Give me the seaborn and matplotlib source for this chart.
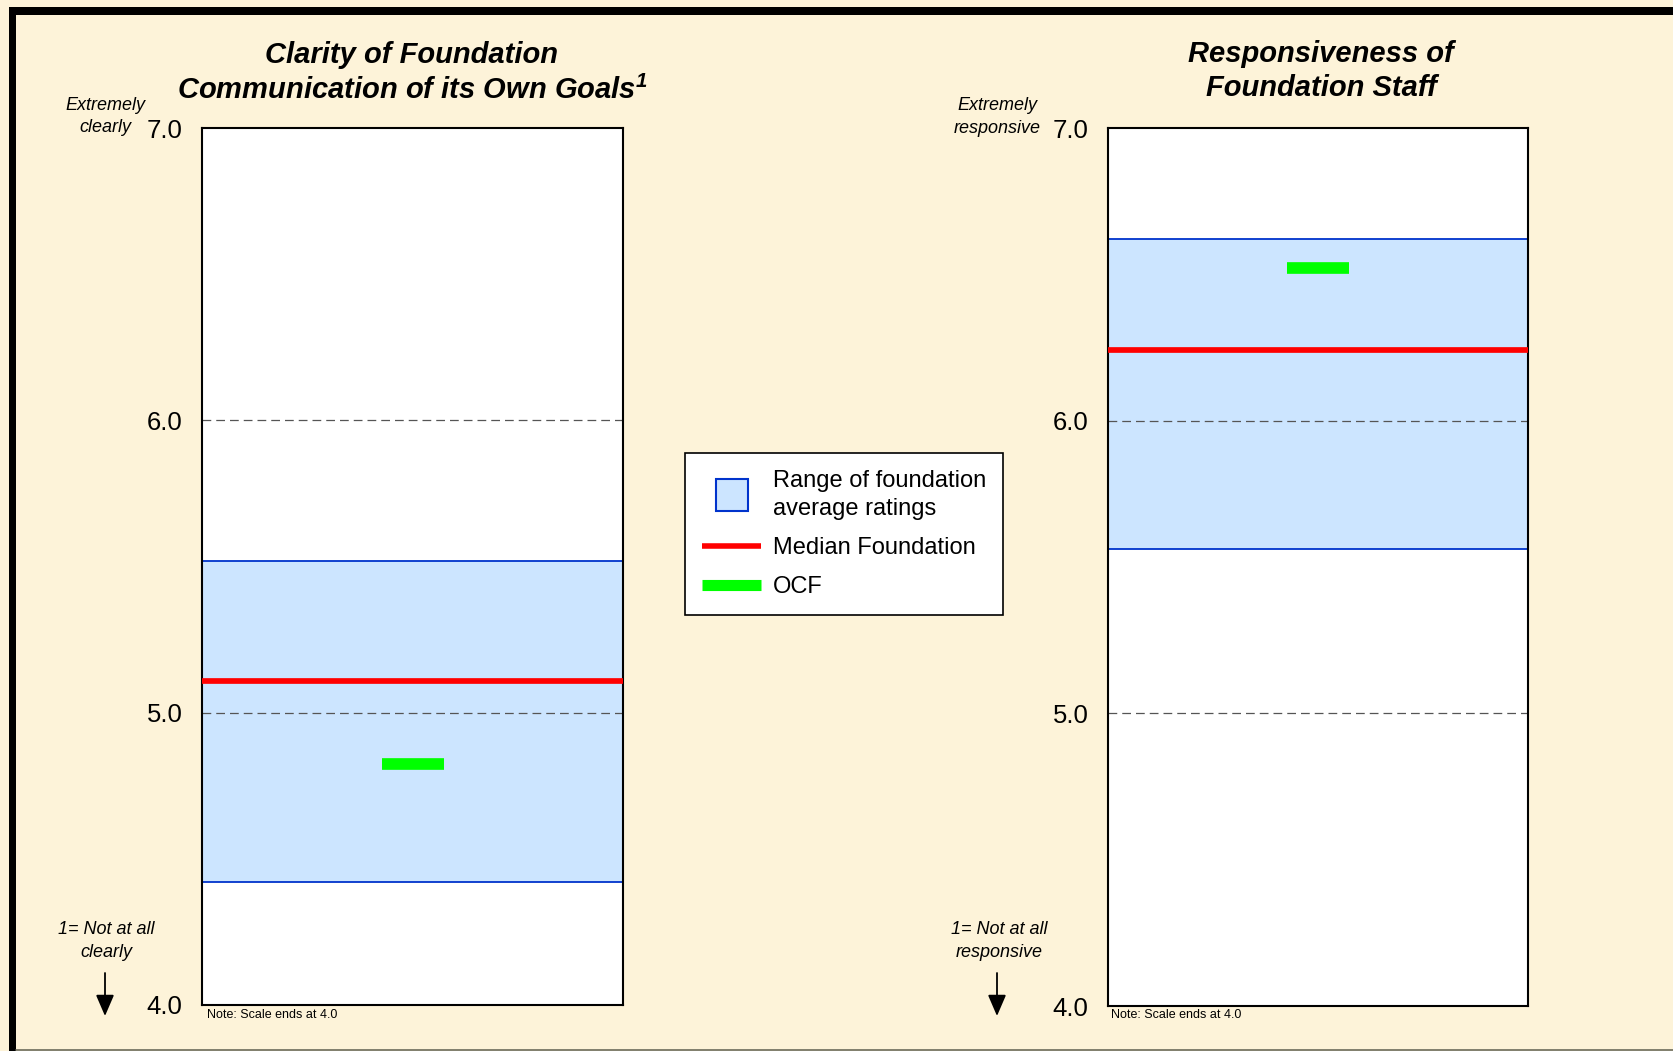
import numpy as np
import pandas as pd
import matplotlib
matplotlib.use("Agg")
import matplotlib.pyplot as plt
import seaborn as sns
from matplotlib.lines import Line2D
from matplotlib.patches import Rectangle, FancyArrowPatch

# ---------------- data ----------------
chart_names = ["Clarity", "Responsiveness"]
chart_titles = ["Clarity of Foundation\nCommunication of its Own Goals$^{\\mathbf{1}}$",
                "Responsiveness of\nFoundation Staff"]
range_low = [4.42, 5.56]
range_high = [5.52, 6.62]
median_values = [5.11, 6.24]
ocf_values = [4.825, 6.52]
y_ticks = [4.0, 5.0, 6.0, 7.0]
y_tick_labels = ["4.0", "5.0", "6.0", "7.0"]
grid_values = [5.0, 6.0]
top_anchor_labels = ["Extremely\nclearly", "Extremely\nresponsive"]
bottom_anchor_labels = ["1= Not at all\nclearly", "1= Not at all\nresponsive"]
note_text = "Note: Scale ends at 4.0"
legend_labels = ["Range of foundation\naverage ratings", "Median Foundation", "OCF"]

# ---------------- style ----------------
W, H = 1674, 1051
BG = "#FDF3D9"
FILL = "#CCE5FF"
EDGE = "#0033CC"
RED = "#FF0000"
GREEN = "#00FF00"

sns.set_theme(style="white")
plt.rcParams["font.family"] = ["Liberation Sans", "DejaVu Sans"]
plt.rcParams["mathtext.fontset"] = "custom"
plt.rcParams["mathtext.rm"] = "Liberation Sans"
plt.rcParams["mathtext.it"] = "Liberation Sans:italic"
plt.rcParams["mathtext.bf"] = "Liberation Sans:bold:italic"
plt.rcParams["text.color"] = "black"
plt.rcParams["ytick.color"] = "black"


def fx(x):
    return x / W


def fy(y):
    return 1 - y / H


fig = plt.figure(figsize=(W / 100, H / 100), dpi=100, facecolor=BG)

axes_px = [(202, 128, 623.5, 1005), (1108, 128, 1528, 1006)]
title_px = [(412, 73), (1321, 71)]
top_lbl_px = [(105, 116.5), (997, 117)]
bot_lbl_px = [(106, 941), (999, 941)]
arrow_x = [105, 997]
note_x = [207, 1111]

for i in range(2):
    l, t, r, b = axes_px[i]
    ax = fig.add_axes([fx(l), fy(b), fx(r) - fx(l), fy(t) - fy(b)])
    ax.set_facecolor("white")
    df = pd.DataFrame({"metric": [chart_names[i]],
                       "span": [range_high[i] - range_low[i]]})
    sns.barplot(data=df, x="metric", y="span", bottom=range_low[i], width=1.0,
                color=FILL, saturation=1, edgecolor=EDGE, linewidth=1.3,
                errorbar=None, ax=ax, zorder=1)
    for g in grid_values:
        ax.axhline(g, color="#555555", lw=0.9, dashes=(7, 4), zorder=2)
    ax.axhline(median_values[i], color=RED, lw=4.1, zorder=3)
    ax.hlines(ocf_values[i], -0.073, 0.073, color=GREEN, lw=8.4, zorder=4,
              capstyle="butt")
    ax.set_xlim(-0.5, 0.5)
    ax.set_ylim(4, 7)
    ax.set_yticks(y_ticks, y_tick_labels, fontsize=18.5)
    ax.tick_params(axis="y", length=0, pad=14, colors="black")
    ax.set_xticks([])
    ax.set_xlabel("")
    ax.set_ylabel("")
    for s in ax.spines.values():
        s.set_visible(True)
        s.set_color("black")
        s.set_linewidth(1.5)

    tx, ty = title_px[i]
    fig.text(fx(tx), fy(ty), chart_titles[i], ha="center", va="center",
             fontsize=21, fontweight="bold", fontstyle="italic", linespacing=1.3)
    x, y = top_lbl_px[i]
    fig.text(fx(x), fy(y), top_anchor_labels[i], ha="center", va="center",
             fontsize=13, fontstyle="italic", linespacing=1.45)
    x, y = bot_lbl_px[i]
    fig.text(fx(x), fy(y), bottom_anchor_labels[i], ha="center", va="center",
             fontsize=13, fontstyle="italic", linespacing=1.45)
    fig.text(fx(note_x[i]), fy(1015), note_text, ha="left", va="center", fontsize=9)
    arr = FancyArrowPatch(posA=(fx(arrow_x[i]), fy(973)), posB=(fx(arrow_x[i]), fy(1016)),
                          transform=fig.transFigure,
                          arrowstyle="-|>,head_length=0.65,head_width=0.28",
                          mutation_scale=20, color="black", lw=1.3,
                          shrinkA=0, shrinkB=0)
    fig.add_artist(arr)

# legend
handles = [
    Line2D([], [], marker="s", ls="None", markersize=23, markerfacecolor=FILL,
           markeredgecolor=EDGE, markeredgewidth=1.5),
    Line2D([], [], color=RED, lw=4, solid_capstyle="butt"),
    Line2D([], [], color=GREEN, lw=8, solid_capstyle="butt"),
]
leg = fig.legend(handles, legend_labels, loc="upper left",
                 bbox_to_anchor=(fx(685), fy(453)), frameon=True, fontsize=17,
                 handlelength=2.5, handletextpad=0.5, borderpad=0.72,
                 labelspacing=0.72, fancybox=False, edgecolor="black",
                 framealpha=1, facecolor="white", borderaxespad=0)
leg.get_frame().set_linewidth(1.2)
leg.get_texts()[0].set_linespacing(1.38)

# slide frame
fig.add_artist(Rectangle((fx(9), fy(15)), 1 - fx(9), fy(7) - fy(15),
                         transform=fig.transFigure, color="black", lw=0))
fig.add_artist(Rectangle((fx(9), 0), fx(16) - fx(9), fy(7),
                         transform=fig.transFigure, color="black", lw=0))
fig.add_artist(Line2D([fx(16), 1], [fy(1049.5), fy(1049.5)],
                      transform=fig.transFigure, color="#6b6b5a", lw=1.2))

fig.savefig("out.png", dpi=100, facecolor=BG)
